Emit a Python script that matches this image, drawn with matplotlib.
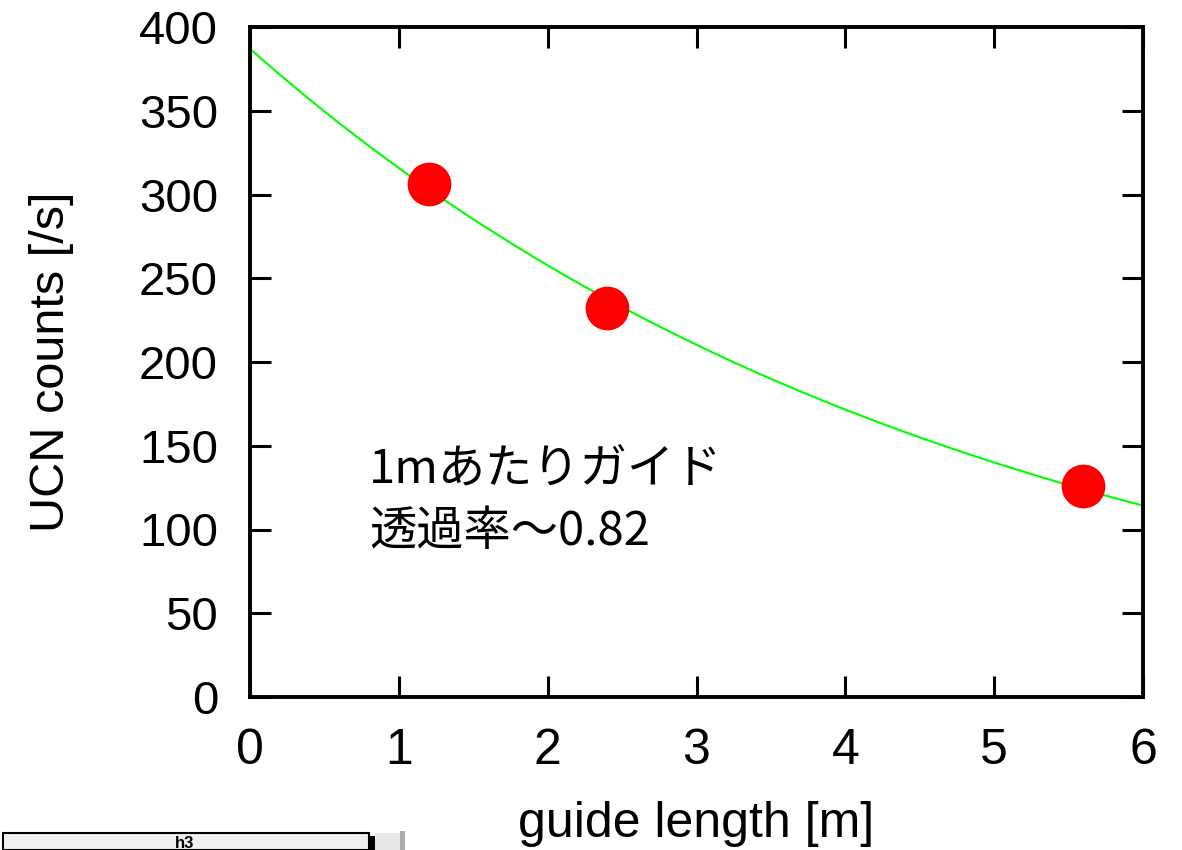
import numpy as np
import matplotlib
matplotlib.use("Agg")
import matplotlib.pyplot as plt
from matplotlib.patches import Rectangle

# data
guide_length = [1.2, 2.4, 5.6]
ucn_counts = [306, 232, 126]
fit_amplitude = 387.0
fit_transmission = 0.816
x_ticks = [0, 1, 2, 3, 4, 5, 6]
y_ticks = [0, 50, 100, 150, 200, 250, 300, 350, 400]
note_line1 = "1mあたりガイド"
note_line2 = "透過率〜0.82"

plt.rcParams['font.family'] = ['Liberation Sans', 'DejaVu Sans']

W, H = 1182, 850
fig = plt.figure(figsize=(W / 100, H / 100), dpi=100)
ax = fig.add_axes([250 / W, (H - 697) / H, (1143 - 250) / W, (697 - 27) / H])

xf = np.linspace(0, 6, 300)
ax.plot(xf, fit_amplitude * fit_transmission ** xf, color='#00ff00', lw=1.5, zorder=2)
ax.plot(guide_length, ucn_counts, 'o', color='#ff0000', ms=31.5, mec='none', zorder=3)

ax.set_xlim(0, 6)
ax.set_ylim(0, 400)
ax.set_xticks(x_ticks)
ax.set_yticks(y_ticks)
ax.tick_params(axis='both', direction='in', length=15, width=2.2,
               top=True, right=True, labelsize=34)
ax.tick_params(axis='x', pad=22, labelsize=36)
ax.tick_params(axis='y', pad=23)
for s in ax.spines.values():
    s.set_linewidth(2.8)

ax.set_ylabel("UCN counts [/s]", fontsize=35)
ax.yaxis.set_label_coords(-0.222, 0.5)
ax.set_xlabel("guide length [m]", fontsize=36)
ax.xaxis.set_label_coords(0.4994, -0.19)
ax.xaxis.label.set_va('center')
ax.yaxis.label.set_va('center')

cjk = ['Noto Sans CJK JP', 'DejaVu Sans']
ax.text(0.80, 127.8, note_line1, fontsize=34, family=cjk, va='baseline', ha='left')
ax.text(0.80, 90.5, note_line2, fontsize=34, family=cjk, va='baseline', ha='left')

# window widget strip at bottom left
fig.patches.append(Rectangle((3 / W, 0), (369 - 3) / W, (850 - 833) / H,
                             transform=fig.transFigure, facecolor='#f0f0f0',
                             edgecolor='black', lw=1.5, clip_on=False))
fig.patches.append(Rectangle((369 / W, 0), 6 / W, (850 - 836) / H,
                             transform=fig.transFigure, facecolor='black',
                             edgecolor='none'))
fig.patches.append(Rectangle((375 / W, 0), 25 / W, (850 - 833) / H,
                             transform=fig.transFigure, facecolor='#e8e8e8',
                             edgecolor='none'))
fig.patches.append(Rectangle((400 / W, 0), 5 / W, (850 - 831) / H,
                             transform=fig.transFigure, facecolor='#aaaaaa',
                             edgecolor='none'))
fig.text(185 / W, (850 - 843) / H, "h3", fontsize=12, fontweight='bold',
         ha='center', va='center')

fig.savefig("out.png", dpi=100)
